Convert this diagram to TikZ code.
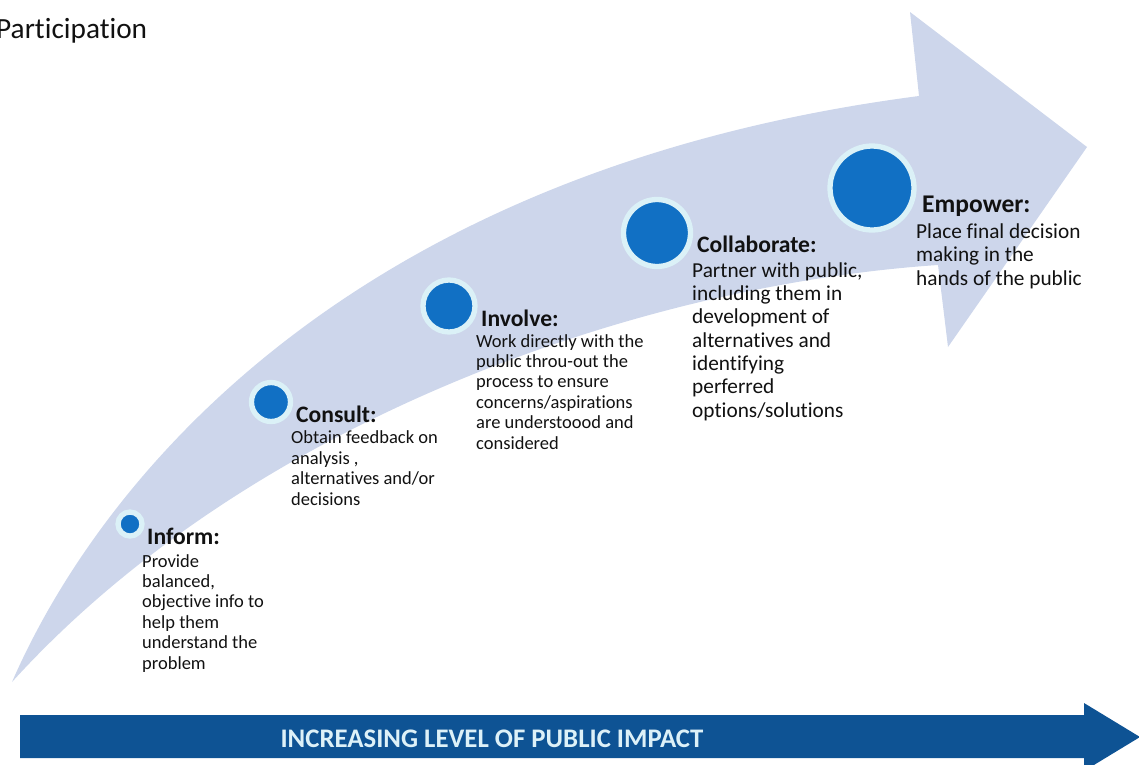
\documentclass[tikz,border=0pt]{standalone}
\usepackage{fontspec}
\setmainfont{Carlito}[Ligatures={NoCommon,NoRare,NoContextual}]
\newcommand\zk{\kern0pt\relax}
\definecolor{band}{HTML}{CDD6EB}
\definecolor{dotblue}{HTML}{1170C4}
\definecolor{halo}{HTML}{DBF1F7}
\definecolor{barblue}{HTML}{0E5394}
\definecolor{bartext}{HTML}{DDF1F8}
\definecolor{ink}{HTML}{111111}
\tikzset{
  dot/.style={circle, fill=dotblue, draw=halo, line width=5.3pt, inner sep=0pt},
  headtext/.style={anchor=base west, inner sep=0pt, text=ink, font=\fontsize{23.6}{28}\selectfont\bfseries},
  smalltext/.style={anchor=base west, inner sep=0pt, text=ink, align=left, font=\fontsize{18.5}{20.4}\selectfont},
  bigtext/.style={anchor=base west, inner sep=0pt, text=ink, align=left, font=\fontsize{21.3}{23.3}\selectfont},
}
\begin{document}
\begin{tikzpicture}[x=1pt,y=-1pt]
\useasboundingbox (0,0) rectangle (1139,764);
\clip (0,0) rectangle (1139,764);
% big curved arrow
\fill[band] (919,96) -- (910,12) -- (1087,147) -- (948,347) -- (938,265)
  .. controls (640,285) and (250,420) .. (12,682)
  .. controls (100,480) and (350,170) .. cycle;
% bottom arrow
\fill[barblue] (20,715) -- (1084,715) -- (1084,703) -- (1140,737) -- (1084,771) -- (1084,758) -- (20,758) -- cycle;
\node[anchor=base, inner sep=0pt, text=bartext, font=\fontsize{26.8}{30}\selectfont\bfseries] (bar) at (492,747) {INCREASING LEVEL OF PUBLIC IMPACT};
% title fragment
\node[anchor=base west, inner sep=0pt, text=ink, font=\fontsize{29.3}{34}\selectfont] (title) at (-4,38) {Part\zk icipat\zk ion};
% dots
\node[dot, minimum size=24pt] (d1) at (130,524) {};
\node[dot, minimum size=39pt] (d2) at (271,402) {};
\node[dot, minimum size=52pt] (d3) at (449,306) {};
\node[dot, minimum size=67pt] (d4) at (657,233) {};
\node[dot, minimum size=84pt] (d5) at (872,188) {};
% headings
\node[headtext] (h1) at (147,544) {Inform:};
\node[headtext] (h2) at (296,422) {Consult:};
\node[headtext] (h3) at (481,326) {Involve:};
\node[headtext] (h4) at (697,252) {Collaborate:};
\node[headtext, font=\fontsize{25.5}{30}\selectfont\bfseries] (h5) at (922,212) {Empower:};
% bodies (anchored at the baseline of their last line)
\node[smalltext] (b1) at (142,669) {Provide\\balanced,\\object\zk ive info to\\help them\\understand the\\problem};
\node[smalltext] (b2) at (291,505) {Obtain feedback on\\analysis ,\\alternat\zk ives and/or\\decisions};
\node[smalltext] (b3) at (476,449) {Work directly with the\\public throu-out the\\process to ensure\\concerns/aspirat\zk ions\\are understoood and\\considered};
\node[bigtext] (b4) at (692,417) {Partner with public,\\including them in\\development of\\alternat\zk ives and\\identifying\\perferred\\opt\zk ions/solut\zk ions};
\node[bigtext] (b5) at (916,285) {Place f\zk inal decision\\making in the\\hands of the public};
\end{tikzpicture}
\end{document}
